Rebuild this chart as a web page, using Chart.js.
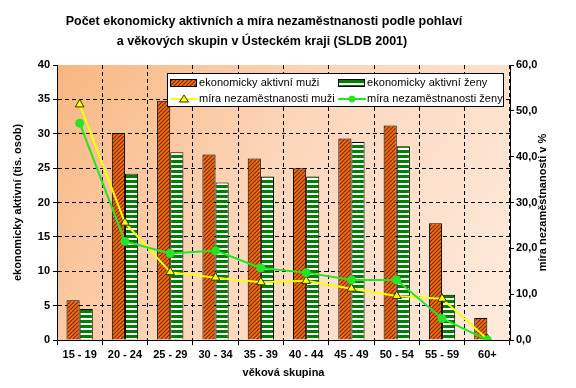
<!DOCTYPE html>
<html>
<head>
<meta charset="utf-8">
<script src="https://cdn.jsdelivr.net/npm/chart.js@4.4.0/dist/chart.umd.min.js"></script>
<style>
  html, body { margin: 0; padding: 0; background: #fff; }
  #wrap { width: 576px; height: 388px; }
</style>
</head>
<body>
<div id="wrap"><canvas id="chart" width="576" height="388"></canvas></div>
<script>
const categories = ['15 - 19', '20 - 24', '25 - 29', '30 - 34', '35 - 39', '40 - 44', '45 - 49', '50 - 54', '55 - 59', '60+'];
const activeMen = [5.8, 30.1, 34.8, 27.0, 26.4, 25.0, 29.3, 31.2, 17.0, 3.2];
const activeWomen = [4.5, 24.2, 27.3, 22.9, 23.8, 23.8, 28.8, 28.2, 6.6, 0];
const unemployedMen = [51.4, 25.6, 14.8, 13.6, 12.6, 12.9, 11.2, 9.6, 9.0, 0.2];
const unemployedWomen = [47.3, 21.5, 18.9, 19.5, 15.7, 14.7, 13.1, 13.1, 4.7, 0.0];
const leftTicks = [0, 5, 10, 15, 20, 25, 30, 35, 40];
const rightTicks = [0, 10, 20, 30, 40, 50, 60];
const titleLines = ['Počet ekonomicky aktivních a míra nezaměstnanosti podle pohlaví',
                    'a věkových skupin v Ústeckém kraji (SLDB 2001)'];

Chart.defaults.font.family = "'Liberation Sans', Arial, sans-serif";
Chart.defaults.color = '#000';

// orange bars with dark diagonal hatching
function hatchPattern() {
  const c = document.createElement('canvas');
  c.width = 4; c.height = 4;
  const g = c.getContext('2d');
  g.fillStyle = '#ff6a1c';
  g.fillRect(0, 0, 4, 4);
  g.strokeStyle = '#703000';
  g.lineWidth = 1.2;
  g.beginPath();
  g.moveTo(0, 4); g.lineTo(4, 0);
  g.moveTo(-1, 1); g.lineTo(1, -1);
  g.moveTo(3, 5); g.lineTo(5, 3);
  g.stroke();
  return g.createPattern(c, 'repeat');
}

// green bars with white horizontal stripes
function stripePattern() {
  const c = document.createElement('canvas');
  c.width = 4; c.height = 5;
  const g = c.getContext('2d');
  g.fillStyle = '#fff';
  g.fillRect(0, 0, 4, 5);
  g.fillStyle = '#008000';
  g.fillRect(0, 0, 4, 3);
  return g.createPattern(c, 'repeat');
}

const hatch = hatchPattern();
const stripes = stripePattern();

const plotBackground = {
  id: 'plotBackground',
  beforeDraw(chart) {
    const { ctx, chartArea: a } = chart;
    const grad = ctx.createLinearGradient(a.left, a.top, a.right, a.bottom);
    grad.addColorStop(0, '#f8b680');
    grad.addColorStop(0.45, '#fcd6ba');
    grad.addColorStop(1, '#feebdd');
    ctx.save();
    ctx.fillStyle = grad;
    ctx.fillRect(a.left, a.top, a.right - a.left, a.bottom - a.top);
    ctx.restore();
  }
};

const texts = {
  id: 'texts',
  afterDraw(chart) {
    const { ctx, chartArea: a } = chart;
    ctx.save();
    ctx.fillStyle = '#000';
    ctx.textAlign = 'center';
    ctx.textBaseline = 'middle';
    ctx.font = "bold 12.5px 'Liberation Sans', Arial, sans-serif";
    ctx.fillText(titleLines[0], 264, 22);
    ctx.fillText(titleLines[1], 262, 42);
    ctx.translate(543, (a.top + a.bottom) / 2);
    ctx.rotate(-Math.PI / 2);
    ctx.font = "bold 11px 'Liberation Sans', Arial, sans-serif";
    ctx.fillText('míra nezaměstnanosti v %', 0, 0);
    ctx.restore();
  }
};

// legend box drawn inside the plot area, two columns
const boxLegend = {
  id: 'boxLegend',
  afterDraw(chart) {
    const { ctx } = chart;
    const ds = chart.data.datasets;
    const slots = [
      { i: 0, x: 170, y: 83 }, { i: 1, x: 338, y: 83 },
      { i: 2, x: 170, y: 99 }, { i: 3, x: 338, y: 99 }
    ];
    ctx.save();
    ctx.fillStyle = '#fff';
    ctx.fillRect(167, 73, 337, 34);
    ctx.strokeStyle = '#000';
    ctx.lineWidth = 1;
    ctx.strokeRect(167.5, 73.5, 336, 33);
    ctx.font = "11px 'Liberation Sans', Arial, sans-serif";
    ctx.letterSpacing = '0.05px';
    ctx.textBaseline = 'middle';
    slots.forEach(s => {
      const d = ds[s.i];
      if (d.type === 'line') {
        ctx.strokeStyle = d.borderColor;
        ctx.lineWidth = 2;
        ctx.beginPath();
        ctx.moveTo(s.x, s.y); ctx.lineTo(s.x + 28, s.y);
        ctx.stroke();
        const cx = s.x + 14;
        ctx.fillStyle = d.pointBackgroundColor;
        ctx.strokeStyle = d.pointBorderColor;
        ctx.lineWidth = 1;
        ctx.beginPath();
        if (d.pointStyle === 'triangle') {
          ctx.moveTo(cx, s.y - 4); ctx.lineTo(cx + 4.5, s.y + 3); ctx.lineTo(cx - 4.5, s.y + 3);
          ctx.closePath();
        } else {
          ctx.arc(cx, s.y, 3, 0, Math.PI * 2);
        }
        ctx.fill(); ctx.stroke();
      } else {
        ctx.fillStyle = d.backgroundColor;
        ctx.fillRect(s.x, s.y - 3, 27, 6);
        ctx.strokeStyle = '#000';
        ctx.lineWidth = 1;
        ctx.strokeRect(s.x + 0.5, s.y - 3.5, 26, 7);
      }
      ctx.fillStyle = '#000';
      ctx.fillText(d.label, s.x + 29, s.y);
    });
    ctx.restore();
  }
};

const boldTick = { size: 11, weight: 'bold' };

new Chart(document.getElementById('chart').getContext('2d'), {
  type: 'bar',
  data: {
    labels: categories,
    datasets: [
      { label: 'ekonomicky aktivní muži', data: activeMen, yAxisID: 'y', order: 3,
        backgroundColor: hatch, borderColor: '#000', borderWidth: 1 },
      { label: 'ekonomicky aktivní ženy', data: activeWomen, yAxisID: 'y', order: 3,
        backgroundColor: stripes, borderColor: '#000', borderWidth: 1 },
      { type: 'line', label: 'míra nezaměstnanosti muži', data: unemployedMen, yAxisID: 'y1', order: 1,
        borderColor: '#ffff00', borderWidth: 2, tension: 0,
        pointStyle: 'triangle', pointRadius: 5, pointBackgroundColor: '#ffff00', pointBorderColor: '#333300', pointBorderWidth: 1 },
      { type: 'line', label: 'míra nezaměstnanosti ženy', data: unemployedWomen, yAxisID: 'y1', order: 0,
        borderColor: '#22e622', borderWidth: 2, tension: 0,
        pointStyle: 'circle', pointRadius: 4, pointBackgroundColor: '#22e622', pointBorderColor: '#22e622', pointBorderWidth: 1 }
    ]
  },
  options: {
    responsive: false,
    animation: false,
    devicePixelRatio: 1,
    categoryPercentage: 0.58,
    barPercentage: 1.0,
    layout: { padding: { top: 65 } },
    plugins: {
      legend: { display: false },
      tooltip: { enabled: false },
      title: { display: false }
    },
    scales: {
      x: {
        grid: { color: '#000', tickColor: '#000', tickLength: 5, offset: true },
        border: { color: '#000', width: 1, dash: [4, 3] },
        ticks: { font: boldTick, padding: 3, maxRotation: 0 },
        title: { display: true, text: 'věková skupina', font: boldTick, padding: { top: 2, bottom: 8 } },
        afterFit(s) { s.height = 48; }
      },
      y: {
        position: 'left',
        min: 0, max: 40,
        afterBuildTicks(s) { s.ticks = leftTicks.map(v => ({ value: v })); },
        grid: {
          color: c => (c.tick && (c.tick.value === 0 || c.tick.value === 40)) ? 'rgba(0,0,0,0)' : '#000',
          tickColor: '#000', tickLength: 4
        },
        border: { color: '#000', width: 1, dash: [4, 3] },
        ticks: { font: boldTick, padding: 3 },
        title: { display: true, text: 'ekonomicky aktivní (tis. osob)', font: boldTick, padding: { top: 11.5, bottom: 4 } },
        afterFit(s) { s.width = 57; }
      },
      y1: {
        position: 'right',
        min: 0, max: 60,
        afterBuildTicks(s) { s.ticks = rightTicks.map(v => ({ value: v })); },
        grid: { drawOnChartArea: false, tickColor: '#000', tickLength: 4 },
        border: { color: '#000', width: 1 },
        ticks: { font: boldTick, padding: 2, callback: v => v.toFixed(1).replace('.', ',') },
        afterFit(s) { s.width = 66; }
      }
    }
  },
  plugins: [plotBackground, boxLegend, texts]
});
</script>
</body>
</html>
